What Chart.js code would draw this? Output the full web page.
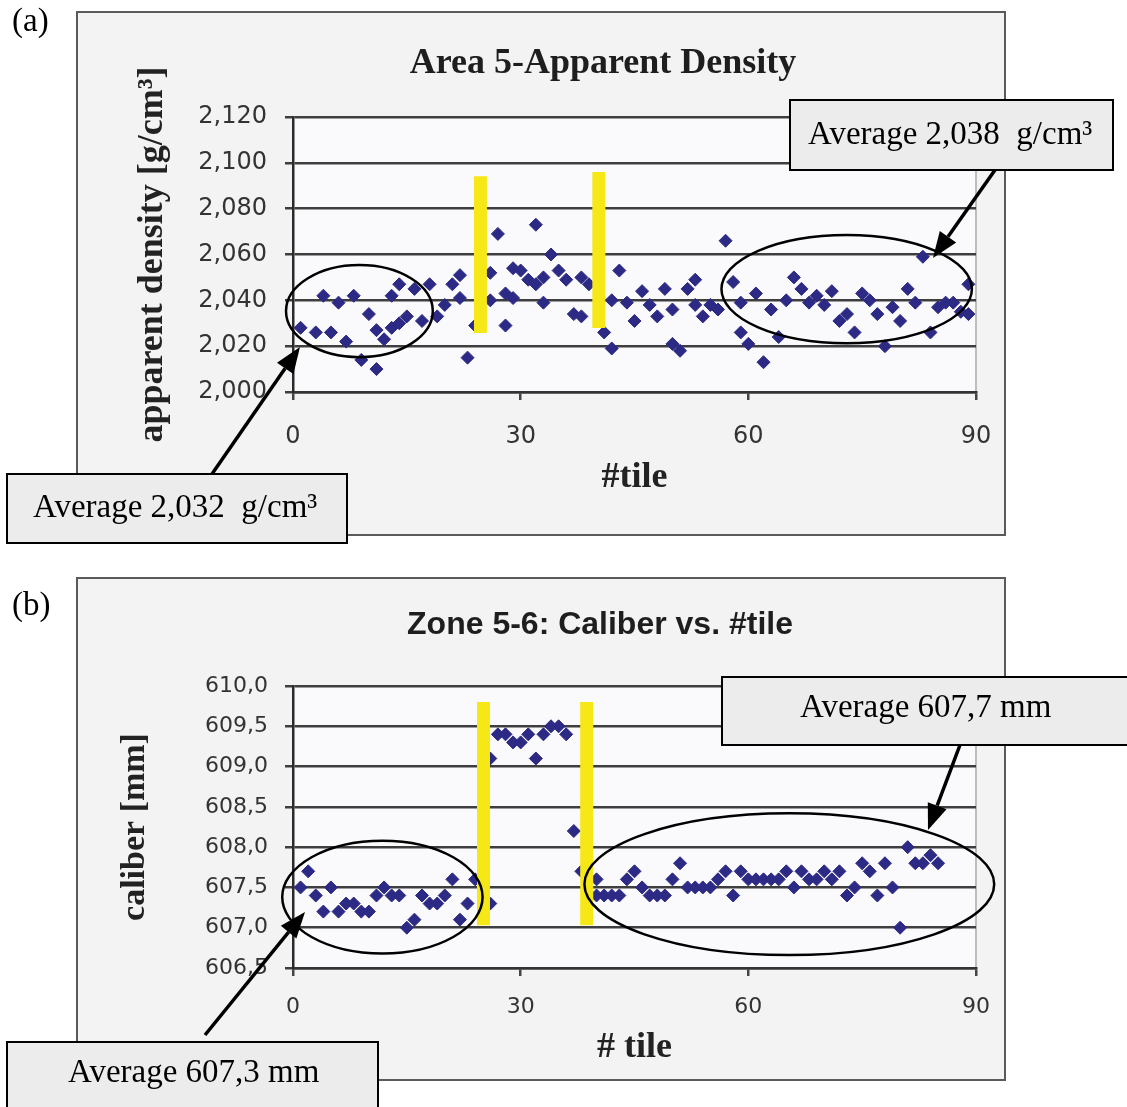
<!DOCTYPE html>
<html>
<head>
<meta charset="utf-8">
<script src="https://cdn.jsdelivr.net/npm/chart.js"></script>
<style>
  body { margin: 0; background: #fff; }
  canvas.panel { position: absolute; left: 0; }
</style>
</head>
<body>
<canvas id="density-chart" class="panel" width="1127" height="560" style="top:0"></canvas>
<canvas id="caliber-chart" class="panel" width="1127" height="547" style="top:560px"></canvas>
<script>
// (a) apparent density per tile, g/cm3
const tileA = [
  1, 3, 4, 5, 6, 7, 8, 9, 10, 11, 11, 12, 13, 13, 14, 14, 15, 16, 17, 18, 19, 20, 21, 22, 22, 23, 24,
  26, 26, 27, 28, 28, 29, 29, 30, 31, 32, 32, 33, 33, 34, 35, 36, 37, 38, 38, 39,
  41, 42, 42, 43, 44, 45, 46, 47, 48, 49, 50, 50, 51, 52, 53, 53, 54, 55, 56, 57, 58, 59, 59,
  60, 61, 62, 63, 64, 65, 66, 67, 68, 69, 70, 71, 72, 73, 74, 75, 76, 77, 78, 79,
  80, 81, 82, 83, 84, 85, 86, 87, 88, 89, 89
];
const densityA = [
  2.028, 2.026, 2.042, 2.026, 2.039, 2.022, 2.042, 2.014, 2.034, 2.027, 2.010, 2.023, 2.042, 2.028, 2.047, 2.030,
  2.033, 2.045, 2.031, 2.047, 2.033, 2.038, 2.047, 2.051, 2.041, 2.015, 2.029,
  2.052, 2.040, 2.069, 2.029, 2.043, 2.054, 2.041, 2.053, 2.049, 2.047, 2.073, 2.050, 2.039, 2.060, 2.053, 2.049,
  2.034, 2.050, 2.033, 2.047,
  2.026, 2.019, 2.040, 2.053, 2.039, 2.031, 2.044, 2.038, 2.033, 2.045, 2.021, 2.036, 2.018, 2.045, 2.049, 2.038,
  2.033, 2.038, 2.036, 2.066, 2.048, 2.039, 2.026,
  2.021, 2.043, 2.013, 2.036, 2.024, 2.040, 2.050, 2.045, 2.039, 2.042, 2.038, 2.044, 2.031, 2.034, 2.026, 2.043,
  2.040, 2.034, 2.020, 2.037,
  2.031, 2.045, 2.039, 2.059, 2.026, 2.037, 2.039, 2.039, 2.035, 2.047, 2.034
];

// (b) caliber per tile, mm
const tileB = [
  1, 2, 3, 4, 5, 6, 7, 8, 9, 10, 11, 12, 13, 14, 15, 16, 17, 18, 19, 20, 21, 22, 23, 24,
  26, 26, 27, 28, 29, 30, 31, 32, 33, 34, 35, 36, 37, 38,
  40, 40, 41, 42, 43, 44, 45, 46, 47, 48, 49, 50, 51, 52, 53, 54, 55, 56, 57, 58, 59,
  60, 61, 62, 63, 64, 65, 66, 67, 68, 69, 70, 71, 72, 73, 74, 75, 76, 77, 78, 79,
  80, 81, 82, 83, 84, 85
];
const caliberB = [
  607.5, 607.7, 607.4, 607.2, 607.5, 607.2, 607.3, 607.3, 607.2, 607.2, 607.4, 607.5, 607.4, 607.4, 607.0, 607.1,
  607.4, 607.3, 607.3, 607.4, 607.6, 607.1, 607.3, 607.6,
  607.3, 609.1, 609.4, 609.4, 609.3, 609.3, 609.4, 609.1, 609.4, 609.5, 609.5, 609.4, 608.2, 607.7,
  607.6, 607.4, 607.4, 607.4, 607.4, 607.6, 607.7, 607.5, 607.4, 607.4, 607.4, 607.6, 607.8, 607.5, 607.5, 607.5,
  607.5, 607.6, 607.7, 607.4, 607.7,
  607.6, 607.6, 607.6, 607.6, 607.6, 607.7, 607.5, 607.7, 607.6, 607.6, 607.7, 607.6, 607.7, 607.4, 607.5, 607.8,
  607.7, 607.4, 607.8, 607.5,
  607.0, 608.0, 607.8, 607.8, 607.9, 607.8
];

// tick labels
const tileTicks = [0, 30, 60, 90];
const densityTicks = [2.000, 2.020, 2.040, 2.060, 2.080, 2.100, 2.120];
const caliberTicks = [606.5, 607.0, 607.5, 608.0, 608.5, 609.0, 609.5, 610.0];

// process change markers (tile, low, high)
const changeTilesA = [24.7, 40.3];
const changeLowA = [2.0257, 2.0279];
const changeHighA = [2.0942, 2.0960];
const changeTilesB = [25.1, 38.7];
const changeLowB = [607.03, 607.03];
const changeHighB = [609.80, 609.80];

const pointColor = '#2c2a85';
const markerColor = '#f6e717';
const tickFont = size => ({ family: 'DejaVu Sans', size: size });
const serifBold = size => ({ family: 'Liberation Serif', size: size, weight: 'bold' });

const comma = (v, digits) => v.toFixed(digits).replace('.', ',');

function markerSets(tiles, lows, highs) {
  return tiles.map((t, i) => ({
    data: [{ x: t, y: lows[i] }, { x: t, y: highs[i] }],
    showLine: true,
    borderColor: markerColor,
    borderWidth: 13,
    borderCapStyle: 'butt',
    pointRadius: 0
  }));
}

function arrow(ctx, x1, y1, x2, y2) {
  const ang = Math.atan2(y2 - y1, x2 - x1);
  const len = 26, half = 10;
  const bx = x2 - len * Math.cos(ang), by = y2 - len * Math.sin(ang);
  ctx.beginPath();
  ctx.moveTo(x1, y1);
  ctx.lineTo(bx, by);
  ctx.stroke();
  ctx.beginPath();
  ctx.moveTo(x2, y2);
  ctx.lineTo(bx + half * Math.sin(ang), by - half * Math.cos(ang));
  ctx.lineTo(bx - half * Math.sin(ang), by + half * Math.cos(ang));
  ctx.closePath();
  ctx.fill();
}

// frame, title, circled groups, arrows and callouts around each panel
const decor = {
  id: 'decor',
  beforeDraw(chart, args, o) {
    const { ctx, chartArea: a } = chart;
    const dy = o.originY;
    ctx.save();
    ctx.fillStyle = '#f3f3f3';
    ctx.fillRect(o.frame[0], o.frame[1] - dy, o.frame[2], o.frame[3]);
    ctx.strokeStyle = '#5a5a5a';
    ctx.lineWidth = 2;
    ctx.strokeRect(o.frame[0], o.frame[1] - dy, o.frame[2], o.frame[3]);
    ctx.fillStyle = '#fafafd';
    ctx.fillRect(a.left, a.top, a.width, a.height);
    ctx.strokeStyle = '#bdbdbd';
    ctx.beginPath();
    ctx.moveTo(a.right, a.top);
    ctx.lineTo(a.right, a.bottom);
    ctx.stroke();

    ctx.fillStyle = '#1e1e1e';
    ctx.font = o.titleFont;
    ctx.textAlign = 'center';
    ctx.textBaseline = 'middle';
    ctx.fillText(o.title, o.titleAt[0], o.titleAt[1] - dy);

    ctx.fillStyle = '#000';
    ctx.font = '33px "Liberation Serif"';
    ctx.textAlign = 'left';
    ctx.textBaseline = 'alphabetic';
    ctx.fillText(o.label, 12, o.labelY - dy);
    ctx.restore();
  },
  afterDraw(chart, args, o) {
    const { ctx, scales: { x, y } } = chart;
    const dy = o.originY;
    ctx.save();
    ctx.strokeStyle = '#000';
    ctx.fillStyle = '#000';
    ctx.lineWidth = 2.5;
    o.groups.forEach(g => {
      const cx = x.getPixelForValue(g.tile), cy = y.getPixelForValue(g.value);
      const rx = Math.abs(x.getPixelForValue(g.tile + g.dTile) - cx);
      const ry = Math.abs(y.getPixelForValue(g.value + g.dValue) - cy);
      ctx.beginPath();
      ctx.ellipse(cx, cy, rx, ry, 0, 0, Math.PI * 2);
      ctx.stroke();
    });
    ctx.lineWidth = 3.5;
    o.arrows.forEach(p => arrow(ctx, p[0], p[1] - dy, p[2], p[3] - dy));
    o.notes.forEach(n => {
      ctx.fillStyle = '#ececec';
      ctx.fillRect(n.box[0], n.box[1] - dy, n.box[2], n.box[3]);
      ctx.lineWidth = 2;
      ctx.strokeRect(n.box[0], n.box[1] - dy, n.box[2], n.box[3]);
      ctx.fillStyle = '#000';
      ctx.font = '33px "Liberation Serif"';
      ctx.textAlign = 'left';
      ctx.textBaseline = 'alphabetic';
      ctx.fillText(n.text, n.at[0], n.at[1] - dy);
    });
    ctx.restore();
  }
};

function panel(canvasId, cfg) {
  return new Chart(document.getElementById(canvasId), {
    type: 'scatter',
    data: {
      datasets: [
        ...markerSets(cfg.markers[0], cfg.markers[1], cfg.markers[2]),
        {
          data: cfg.tiles.map((t, i) => ({ x: t, y: cfg.values[i] })),
          pointStyle: 'rectRot',
          pointRadius: 6.5,
          backgroundColor: pointColor,
          borderColor: pointColor,
          borderWidth: 1
        }
      ]
    },
    options: {
      responsive: false,
      animation: false,
      events: [],
      layout: { padding: cfg.padding },
      plugins: {
        legend: { display: false },
        tooltip: { enabled: false },
        decor: cfg.decor
      },
      scales: {
        x: {
          type: 'linear',
          min: 0,
          max: 90,
          afterBuildTicks: s => { s.ticks = tileTicks.map(v => ({ value: v })); },
          afterFit: s => { s.height = cfg.xHeight; s.paddingLeft = 0; s.paddingRight = 0; },
          grid: { drawOnChartArea: false, tickLength: 8, color: '#444', lineWidth: 2.5 },
          border: { color: '#333', width: 2.5 },
          ticks: { padding: cfg.xTickPad, font: tickFont(cfg.tickSize), color: '#333' },
          title: { display: true, text: cfg.xTitle, font: serifBold(36), color: '#222', padding: 0 }
        },
        y: {
          min: cfg.yTicks[0],
          max: cfg.yTicks[cfg.yTicks.length - 1],
          afterBuildTicks: s => { s.ticks = cfg.yTicks.map(v => ({ value: v })); },
          afterFit: s => { s.width = cfg.yWidth; s.paddingTop = 0; s.paddingBottom = 0; },
          grid: { color: '#3e3e3e', lineWidth: 2.5, tickLength: 8 },
          border: { color: '#2a2a2a', width: 2.5 },
          ticks: {
            padding: cfg.yTickPad,
            font: tickFont(cfg.tickSize),
            color: '#333',
            callback: v => comma(v, cfg.digits)
          },
          title: { display: true, text: cfg.yTitle, font: serifBold(cfg.yTitleSize), color: '#222', padding: 0 }
        }
      }
    },
    plugins: [decor]
  });
}

panel('density-chart', {
  tiles: tileA,
  values: densityA,
  markers: [changeTilesA, changeLowA, changeHighA],
  yTicks: densityTicks,
  digits: 3,
  tickSize: 24,
  xTickPad: 22,
  yTickPad: 18,
  xHeight: 107.6,
  yWidth: 161.6,
  xTitle: '#tile',
  yTitle: 'apparent density [g/cm³]',
  yTitleSize: 36,
  padding: { left: 131.4, right: 151, top: 117, bottom: 60.4 },
  decor: {
    originY: 0,
    frame: [77, 12, 928, 523],
    title: 'Area 5-Apparent Density',
    titleFont: 'bold 36px "Liberation Serif"',
    titleAt: [603, 64],
    label: '(a)',
    labelY: 31,
    groups: [
      { tile: 8.75, value: 2.0353, dTile: 9.67, dValue: 0.0201 },
      { tile: 72.96, value: 2.0449, dTile: 16.5, dValue: 0.0236 }
    ],
    arrows: [[995, 170, 933, 258], [212, 474, 300, 347]],
    notes: [
      { box: [790, 100, 323, 70], at: [808, 144], text: 'Average 2,038  g/cm³' },
      { box: [7, 474, 340, 69], at: [33, 517], text: 'Average 2,032  g/cm³' }
    ]
  }
});

panel('caliber-chart', {
  tiles: tileB,
  values: caliberB,
  markers: [changeTilesB, changeLowB, changeHighB],
  yTicks: caliberTicks,
  digits: 1,
  tickSize: 22,
  xTickPad: 18,
  yTickPad: 17,
  xHeight: 101.6,
  yWidth: 178.4,
  xTitle: '# tile',
  yTitle: 'caliber [mm]',
  yTitleSize: 34,
  padding: { left: 114.6, right: 151, top: 126, bottom: 37.4 },
  decor: {
    originY: 560,
    frame: [77, 578, 928, 502],
    title: 'Zone 5-6: Caliber vs. #tile',
    titleFont: 'bold 32px "Liberation Sans"',
    titleAt: [600, 625],
    label: '(b)',
    labelY: 615,
    groups: [
      { tile: 11.78, value: 607.38, dTile: 13.2, dValue: 0.70 },
      { tile: 65.4, value: 607.54, dTile: 27.0, dValue: 0.88 }
    ],
    arrows: [[960, 745, 928, 830], [205, 1035, 305, 912]],
    notes: [
      { box: [722, 677, 407, 68], at: [800, 717], text: 'Average 607,7 mm' },
      { box: [7, 1042, 371, 72], at: [68, 1082], text: 'Average 607,3 mm' }
    ]
  }
});
</script>
</body>
</html>
